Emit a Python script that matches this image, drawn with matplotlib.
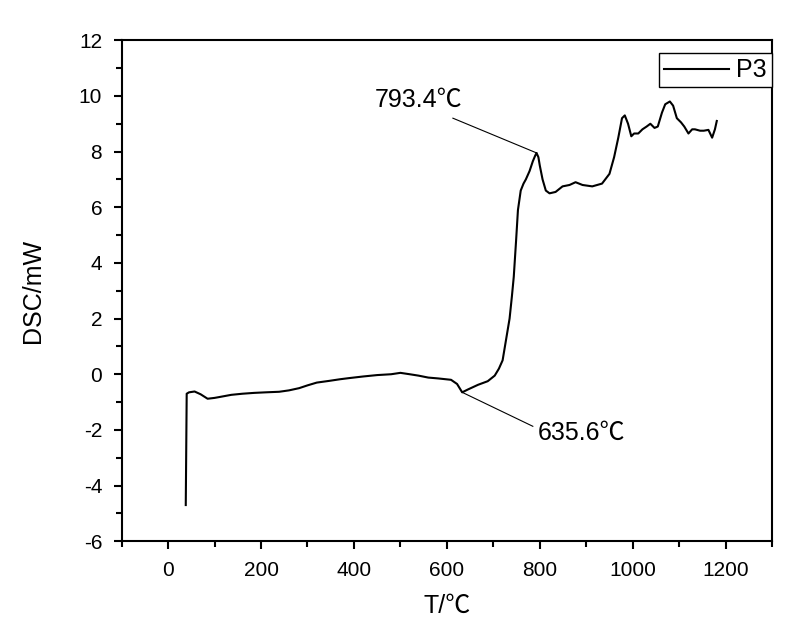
import matplotlib
matplotlib.use("Agg")
import matplotlib.pyplot as plt
from matplotlib.ticker import MultipleLocator

plt.rcParams['font.family'] = ['Liberation Sans', 'Noto Sans CJK SC', 'DejaVu Sans']
plt.rcParams['axes.unicode_minus'] = False

# DSC curve
temp = [38, 40, 45, 57, 70, 85, 100, 110, 136, 160, 185, 210, 239, 260, 282,
        300, 320, 346, 370, 389, 420, 450, 480, 500, 520, 539, 560, 581, 609,
        622, 633, 645, 667, 688, 703, 712, 720, 727, 735, 740, 744, 749, 753,
        759, 765, 770, 778, 785, 790, 793, 797, 800, 806, 813, 821, 834, 849,
        864, 877, 892, 913, 934, 950, 960, 969, 977, 983, 990, 997, 1003,
        1012, 1021, 1030, 1038, 1047, 1054, 1063, 1070, 1080, 1087, 1095,
        1104, 1111, 1120, 1128, 1134, 1145, 1153, 1163, 1171, 1177, 1181]
dsc = [-4.7, -0.7, -0.65, -0.62, -0.72, -0.88, -0.85, -0.82, -0.74, -0.7,
       -0.67, -0.65, -0.63, -0.58, -0.5, -0.4, -0.3, -0.24, -0.18, -0.14,
       -0.08, -0.03, 0.0, 0.05, 0.0, -0.05, -0.12, -0.15, -0.2, -0.35, -0.65,
       -0.55, -0.38, -0.25, -0.05, 0.2, 0.5, 1.2, 2.0, 2.8, 3.5, 4.8, 5.9,
       6.6, 6.85, 7.0, 7.3, 7.65, 7.85, 7.95, 7.8, 7.5, 7.0, 6.6, 6.5, 6.55,
       6.75, 6.8, 6.9, 6.8, 6.75, 6.85, 7.2, 7.8, 8.5, 9.2, 9.3, 9.0, 8.55,
       8.65, 8.65, 8.8, 8.9, 9.0, 8.85, 8.9, 9.4, 9.7, 9.8, 9.65, 9.2, 9.05,
       8.9, 8.65, 8.8, 8.8, 8.75, 8.75, 8.78, 8.5, 8.8, 9.1]

# annotations
peak_label = "793.4℃"
peak_point = (793.4, 7.95)
onset_label = "635.6℃"
onset_point = (633, -0.65)

fig = plt.figure(figsize=(8.11, 6.39), dpi=100)
ax = fig.add_axes([0.150, 0.153, 0.802, 0.784])

ax.plot(temp, dsc, color='black', lw=1.5, label='P3')

ax.set_xlim(-100, 1300)
ax.set_ylim(-6, 12)
ax.xaxis.set_major_locator(MultipleLocator(200))
ax.xaxis.set_minor_locator(MultipleLocator(100))
ax.yaxis.set_major_locator(MultipleLocator(2))
ax.yaxis.set_minor_locator(MultipleLocator(1))
ax.tick_params(which='both', direction='out', top=False, right=False,
               width=1.5, labelsize=15, pad=8)
ax.tick_params(which='major', length=6)
ax.tick_params(which='minor', length=4)
for s in ax.spines.values():
    s.set_linewidth(1.5)

ax.set_xlabel("T/℃", fontsize=18, labelpad=10)
ax.set_ylabel("DSC/mW", fontsize=18, labelpad=24)

# leader lines and labels
ax.plot([613, peak_point[0]], [9.2, peak_point[1]], color='black', lw=0.8)
ax.text(444, 9.85, peak_label, fontsize=18, va='center', ha='left')
ax.plot([onset_point[0], 785], [onset_point[1], -1.87], color='black', lw=0.8)
ax.text(795, -2.09, onset_label, fontsize=18, va='center', ha='left')

leg = ax.legend(loc='upper right', bbox_to_anchor=(1.0, 0.974), fontsize=18,
                frameon=True, fancybox=False, edgecolor='black', framealpha=1,
                borderaxespad=0, borderpad=0.2, handlelength=2.6,
                handletextpad=0.3)
leg.get_frame().set_linewidth(1.0)

fig.savefig("out.png", dpi=100)
